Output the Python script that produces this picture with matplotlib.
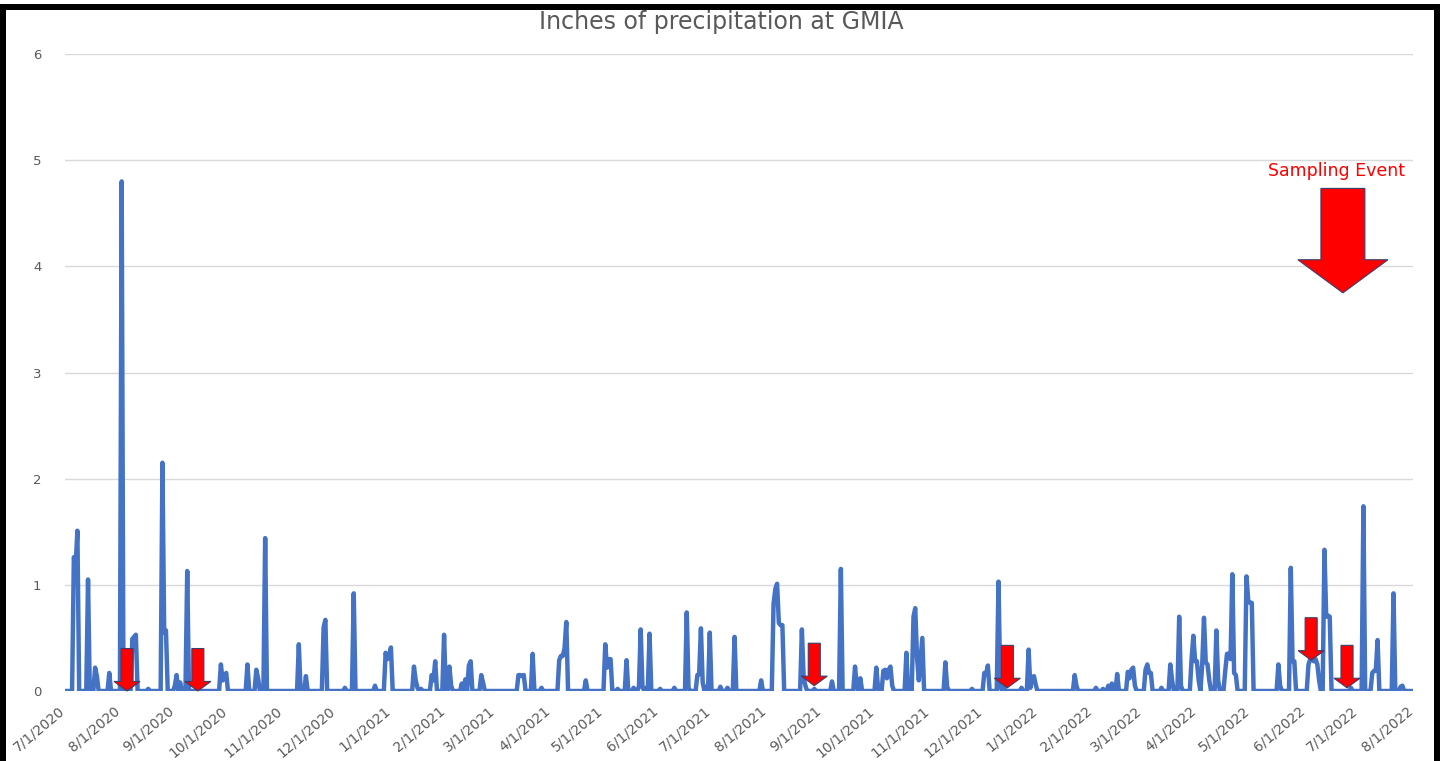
import matplotlib
matplotlib.use("Agg")
import matplotlib.pyplot as plt
import matplotlib.dates as mdates
import matplotlib.transforms as mtransforms
from matplotlib.patches import Polygon, Rectangle
import numpy as np
import pandas as pd

# daily rainfall at GMIA, only the wet days are listed (all other days are 0)
rain_dates = [
    "2020-07-06", "2020-07-07", "2020-07-08", "2020-07-14", "2020-07-18", "2020-07-19",
    "2020-07-26", "2020-08-02", "2020-08-08", "2020-08-09", "2020-08-10", "2020-08-17",
    "2020-08-25", "2020-08-26", "2020-08-27", "2020-09-01", "2020-09-02", "2020-09-04",
    "2020-09-08", "2020-09-27", "2020-09-28", "2020-09-29", "2020-09-30", "2020-10-12",
    "2020-10-17", "2020-10-18", "2020-10-22", "2020-11-10", "2020-11-14", "2020-11-24",
    "2020-11-25", "2020-12-06", "2020-12-11", "2020-12-23", "2020-12-29", "2020-12-30",
    "2020-12-31", "2021-01-01", "2021-01-14", "2021-01-15", "2021-01-16", "2021-01-18",
    "2021-01-24", "2021-01-25", "2021-01-26", "2021-01-31", "2021-02-03", "2021-02-04",
    "2021-02-10", "2021-02-12", "2021-02-14", "2021-02-15", "2021-02-21", "2021-02-22",
    "2021-03-14", "2021-03-15", "2021-03-16", "2021-03-17", "2021-03-22", "2021-03-27",
    "2021-04-06", "2021-04-07", "2021-04-08", "2021-04-09", "2021-04-10", "2021-04-21",
    "2021-05-02", "2021-05-03", "2021-05-04", "2021-05-05", "2021-05-09", "2021-05-14",
    "2021-05-18", "2021-05-21", "2021-05-22", "2021-05-23", "2021-05-25", "2021-05-27",
    "2021-06-02", "2021-06-10", "2021-06-17", "2021-06-18", "2021-06-23", "2021-06-24",
    "2021-06-25", "2021-06-26", "2021-06-28", "2021-06-30", "2021-07-06", "2021-07-10",
    "2021-07-14", "2021-07-29", "2021-08-05", "2021-08-06", "2021-08-07", "2021-08-08",
    "2021-08-09", "2021-08-10", "2021-08-21", "2021-08-22", "2021-08-23", "2021-08-28",
    "2021-09-07", "2021-09-12", "2021-09-20", "2021-09-21", "2021-09-23", "2021-10-02",
    "2021-10-03", "2021-10-06", "2021-10-07", "2021-10-08", "2021-10-09", "2021-10-10",
    "2021-10-11", "2021-10-19", "2021-10-23", "2021-10-24", "2021-10-25", "2021-10-26",
    "2021-10-27", "2021-10-28", "2021-11-10", "2021-11-11", "2021-11-25", "2021-12-02",
    "2021-12-03", "2021-12-04", "2021-12-10", "2021-12-11", "2021-12-13", "2021-12-23",
    "2021-12-27", "2021-12-28", "2021-12-29", "2021-12-30", "2021-12-31", "2022-01-22",
    "2022-01-23", "2022-02-03", "2022-02-07", "2022-02-10", "2022-02-12", "2022-02-15",
    "2022-02-21", "2022-02-22", "2022-02-23", "2022-02-24", "2022-02-25", "2022-03-03",
    "2022-03-04", "2022-03-05", "2022-03-06", "2022-03-12", "2022-03-17", "2022-03-18",
    "2022-03-22", "2022-03-23", "2022-03-29", "2022-03-30", "2022-03-31", "2022-04-01",
    "2022-04-02", "2022-04-04", "2022-04-05", "2022-04-06", "2022-04-07", "2022-04-08",
    "2022-04-12", "2022-04-13", "2022-04-17", "2022-04-18", "2022-04-19", "2022-04-20",
    "2022-04-21", "2022-04-22", "2022-04-23", "2022-04-29", "2022-04-30", "2022-05-01",
    "2022-05-02", "2022-05-17", "2022-05-18", "2022-05-24", "2022-05-25", "2022-05-26",
    "2022-06-03", "2022-06-04", "2022-06-05", "2022-06-06", "2022-06-07", "2022-06-08",
    "2022-06-09", "2022-06-12", "2022-06-13", "2022-06-14", "2022-06-15", "2022-06-27",
    "2022-07-04", "2022-07-09", "2022-07-10", "2022-07-11", "2022-07-12", "2022-07-21",
    "2022-07-25", "2022-07-26",
]
rain_inches = [
    1.26, 1.18, 1.51, 1.05, 0.22, 0.14,
    0.17, 4.80, 0.49, 0.51, 0.53, 0.02,
    2.15, 0.55, 0.57, 0.05, 0.15, 0.08,
    1.13, 0.25, 0.10, 0.12, 0.17, 0.25,
    0.20, 0.12, 1.44, 0.44, 0.14, 0.60,
    0.67, 0.03, 0.92, 0.05, 0.36, 0.30,
    0.33, 0.41, 0.23, 0.10, 0.03, 0.02,
    0.15, 0.10, 0.28, 0.53, 0.23, 0.05,
    0.07, 0.11, 0.24, 0.28, 0.15, 0.08,
    0.15, 0.15, 0.14, 0.15, 0.35, 0.03,
    0.29, 0.33, 0.33, 0.40, 0.65, 0.10,
    0.44, 0.22, 0.30, 0.30, 0.02, 0.29,
    0.03, 0.04, 0.58, 0.04, 0.03, 0.54,
    0.02, 0.03, 0.74, 0.03, 0.15, 0.16,
    0.59, 0.08, 0.04, 0.55, 0.04, 0.03,
    0.51, 0.10, 0.82, 0.96, 1.01, 0.64,
    0.62, 0.62, 0.58, 0.12, 0.05, 0.02,
    0.09, 1.15, 0.23, 0.05, 0.12, 0.22,
    0.03, 0.19, 0.20, 0.12, 0.20, 0.23,
    0.05, 0.36, 0.70, 0.78, 0.32, 0.10,
    0.30, 0.50, 0.27, 0.04, 0.02, 0.17,
    0.16, 0.24, 1.03, 0.05, 0.04, 0.03,
    0.39, 0.03, 0.13, 0.14, 0.06, 0.15,
    0.05, 0.03, 0.02, 0.05, 0.07, 0.16,
    0.18, 0.12, 0.20, 0.22, 0.05, 0.20,
    0.25, 0.17, 0.17, 0.03, 0.25, 0.10,
    0.70, 0.05, 0.30, 0.52, 0.28, 0.28,
    0.10, 0.25, 0.69, 0.27, 0.25, 0.10,
    0.57, 0.10, 0.19, 0.35, 0.35, 0.30,
    1.10, 0.17, 0.15, 1.08, 0.85, 0.83,
    0.83, 0.25, 0.05, 1.16, 0.28, 0.28,
    0.25, 0.30, 0.30, 0.28, 0.30, 0.25,
    0.10, 1.33, 0.70, 0.71, 0.70, 0.03,
    1.74, 0.17, 0.19, 0.19, 0.48, 0.92,
    0.04, 0.05,
]

# sampling events (arrows) and where each arrow tip sits
sampling_dates = ["2020-08-05", "2020-09-14", "2021-08-28", "2021-12-15", "2022-06-04 12:00", "2022-06-24 18:00"]
arrow_tips = [0.0, 0.0, 0.05, 0.03, 0.29, 0.03]

days = pd.date_range("2020-07-01", "2022-08-01", freq="D")
precip = pd.Series(rain_inches, index=pd.to_datetime(rain_dates)).reindex(days, fill_value=0.0)

fig = plt.figure(figsize=(14.44, 7.61), dpi=100)
ax = fig.add_axes([65 / 1444, 1 - 691 / 761, 1348 / 1444, 637 / 761])

ax.plot(precip.index, precip.values, color="#4472C4", lw=3.2, solid_joinstyle="round", zorder=3)

ax.set_ylim(0, 6)
ax.set_yticks(range(7))
ax.set_xlim(pd.Timestamp("2020-07-01"), pd.Timestamp("2022-08-01"))
ax.xaxis.set_major_locator(mdates.MonthLocator())
ax.xaxis.set_major_formatter(plt.FuncFormatter(
    lambda v, pos: "{d.month}/{d.day}/{d.year}".format(d=mdates.num2date(v))))

ax.grid(axis="y", color="#D9D9D9", lw=1)
ax.set_axisbelow(True)
for s in ax.spines.values():
    s.set_visible(False)
ax.tick_params(axis="y", length=0, pad=17, labelsize=9.5, labelcolor="#595959")
ax.tick_params(axis="x", length=0, pad=9, labelsize=10, labelcolor="#595959")
shift = mtransforms.ScaledTranslation(-5 / 72, 0, fig.dpi_scale_trans)
for lab in ax.get_xticklabels():
    lab.set_rotation(40)
    lab.set_ha("right")
    lab.set_rotation_mode("anchor")
    lab.set_transform(lab.get_transform() + shift)

fig.text(721 / 1444, 1 - 22 / 761, "Inches of precipitation at GMIA", fontsize=17,
         color="#595959", ha="center", va="center")


def block_arrow(ax, x, y_top, y_tip, shaft_w, head_w, head_len, transform=None):
    pts = [(x - shaft_w / 2, y_top), (x + shaft_w / 2, y_top),
           (x + shaft_w / 2, y_tip + head_len), (x + head_w / 2, y_tip + head_len),
           (x, y_tip), (x - head_w / 2, y_tip + head_len),
           (x - shaft_w / 2, y_tip + head_len)]
    kw = {} if transform is None else {"transform": transform}
    ax.add_patch(Polygon(pts, closed=True, facecolor="#FF0000", edgecolor="#3A3F6E",
                         lw=0.8, zorder=5, clip_on=False, **kw))


for d, tip in zip(sampling_dates, arrow_tips):
    xc = mdates.date2num(pd.Timestamp(d))
    block_arrow(ax, xc, tip + 0.40, tip, 6.8, 14.7, 0.09)

# key arrow in the upper right corner
block_arrow(ax, 0.948, 0.789, 0.625, 0.0326, 0.0668, 0.052, transform=ax.transAxes)
ax.text(0.943, 0.816, "Sampling Event", transform=ax.transAxes, color="#FF0000",
        fontsize=12.5, ha="center", va="center")

# black frame
for x0, y0, w, h in [(0, 0, 6, 751), (0, 751, 1440, 6), (1434, 0, 6, 751)]:
    fig.add_artist(Rectangle((x0 / 1444, y0 / 761), w / 1444, h / 761,
                             transform=fig.transFigure, color="black", lw=0))

fig.savefig("out.png", dpi=100)
